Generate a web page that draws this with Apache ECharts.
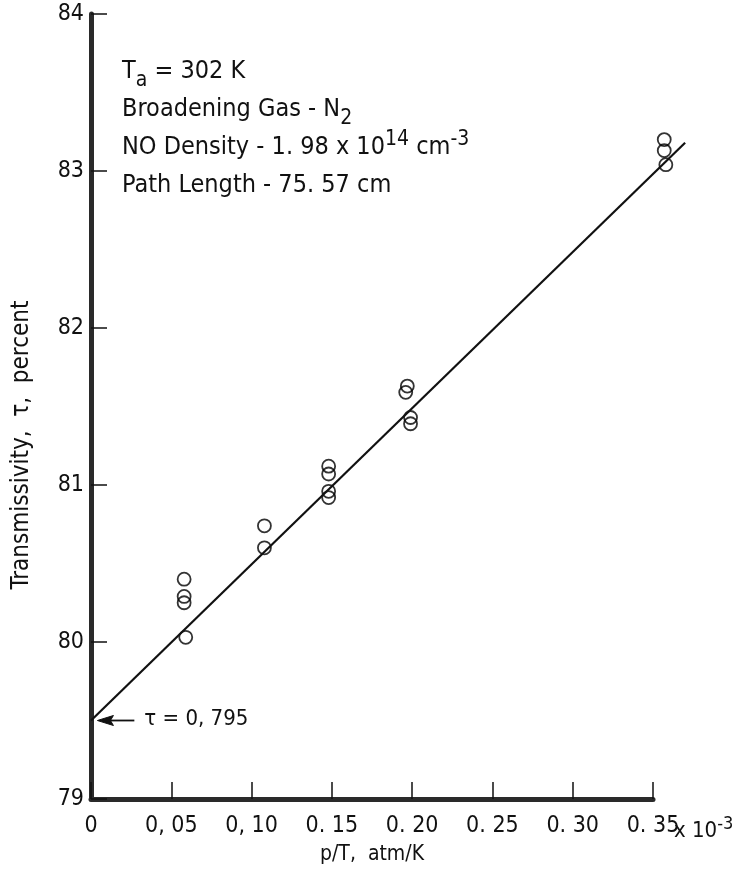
<!DOCTYPE html>
<html>
<head>
<meta charset="utf-8">
<script src="https://cdn.jsdelivr.net/npm/echarts@6/dist/echarts.min.js"></script>
<style>
html,body{margin:0;padding:0;background:#fff;}
#c{width:738px;height:873px;}
</style>
</head>
<body>
<div id="c"></div>
<script>
// Data
const pointsX = [0.058, 0.058, 0.058, 0.059, 0.108, 0.108, 0.148, 0.148, 0.148, 0.148, 0.197, 0.196, 0.199, 0.199, 0.357, 0.357, 0.358];
const pointsY = [80.40, 80.29, 80.25, 80.03, 80.74, 80.60, 81.12, 81.07, 80.96, 80.92, 81.63, 81.59, 81.43, 81.39, 83.20, 83.13, 83.04];
const fitX = [0, 0.37];
const fitY = [79.5, 83.18];
const xTickLabels = ['0', '0, 05', '0, 10', '0. 15', '0. 20', '0. 25', '0. 30', '0. 35'];
const yTickLabels = ['79', '80', '81', '82', '83', '84'];
const interceptX = [0.004, 0.027];
const interceptY = [79.5, 79.5];

const FONT = '"DejaVu Sans Condensed", "Liberation Sans Narrow", sans-serif';

const chart = echarts.init(document.getElementById('c'), null, {renderer: 'canvas'});

const scatterData = pointsX.map((x, i) => [x, pointsY[i]]);

const option = {
  backgroundColor: '#fff',
  animation: false,
  grid: {left: 91, right: 85, top: 14, bottom: 74, containLabel: false},
  xAxis: {
    type: 'value', min: 0, max: 0.35, interval: 0.05,
    name: 'p/T,  atm/K', nameLocation: 'middle', nameGap: 45,
    nameTextStyle: {fontFamily: FONT, fontSize: 21, color: '#111'},
    axisLine: {show: true, onZero: false, lineStyle: {color: '#2a2a2a', width: 5}},
    axisTick: {show: true, inside: true, length: 17, lineStyle: {color: '#111', width: 1.5}},
    axisLabel: {
      fontFamily: FONT, fontSize: 23, color: '#111', margin: 16,
      formatter: v => xTickLabels[Math.round(v / 0.05)]
    },
    splitLine: {show: false}
  },
  yAxis: {
    type: 'value', min: 79, max: 84, interval: 1,
    axisLine: {show: true, onZero: false, lineStyle: {color: '#2a2a2a', width: 5}},
    axisTick: {show: true, inside: true, length: 16, lineStyle: {color: '#111', width: 1.5}},
    axisLabel: {
      fontFamily: FONT, fontSize: 23, color: '#111', margin: 7,
      formatter: v => yTickLabels[Math.round(v - 79)]
    },
    splitLine: {show: false}
  },
  series: [
    {
      type: 'scatter', data: scatterData, clip: false,
      symbol: 'circle', symbolSize: 13,
      itemStyle: {color: 'rgba(255,255,255,0)', borderColor: '#000', borderWidth: 1.8},
      z: 3
    }
  ]
};

chart.setOption(option);

// Fit line and annotations placed via the chart's own scales
const toPx = p => chart.convertToPixel({gridIndex: 0}, p);
const fitPts = fitX.map((x, i) => toPx([x, fitY[i]]));
const pInt = toPx([interceptX[1], interceptY[1]]);
const pArrowTip = toPx([interceptX[0], interceptY[0]]);
const pEnd = toPx([0.35, 79]);

chart.setOption({
  graphic: [
    {
      type: 'polyline', z: 5,
      shape: {points: fitPts},
      style: {stroke: '#111', lineWidth: 2.2, fill: null}
    },
    {
      type: 'line', z: 10,
      shape: {x1: pArrowTip[0] + 10, y1: pArrowTip[1], x2: pInt[0], y2: pInt[1]},
      style: {stroke: '#111', lineWidth: 1.8}
    },
    {
      type: 'polygon', z: 10,
      shape: {points: [[pArrowTip[0], pArrowTip[1]], [pArrowTip[0] + 16, pArrowTip[1] - 5], [pArrowTip[0] + 13, pArrowTip[1]], [pArrowTip[0] + 16, pArrowTip[1] + 5]]},
      style: {fill: '#111', stroke: '#111', lineWidth: 1}
    },
    {
      type: 'text', z: 10, left: pInt[0] + 10, top: pInt[1] - 12,
      style: {text: '\u03c4 = 0, 795', font: '22px ' + FONT, fill: '#111'}
    },
    {
      type: 'text', z: 10, left: pEnd[0] + 21, top: pEnd[1] + 16,
      style: {
        text: 'x 10{sup|-3}',
        font: '22px ' + FONT, fill: '#111',
        rich: {sup: {fontFamily: FONT, fontSize: 18, verticalAlign: 'top', padding: [0, 0, 14, 0], fill: '#111'}}
      }
    },
    {
      type: 'text', z: 10, x: 22, y: 445, rotation: Math.PI / 2,
      style: {
        text: 'Transmissivity,  \u03c4,  percent',
        font: '24px ' + FONT, fill: '#111', align: 'center', verticalAlign: 'middle'
      }
    },
    {
      type: 'text', z: 10, left: 122, top: 52,
      style: {
        text: 'T{sub|a} = 302 K\nBroadening Gas - N{sub|2}\nNO Density - 1. 98 x 10{sup|14} cm{sup|-3}\nPath Length - 75. 57 cm',
        font: '25px ' + FONT, fill: '#111', lineHeight: 38,
        rich: {
          sub: {fontFamily: FONT, fontSize: 21, padding: [18, 0, 0, 0], lineHeight: 38, fill: '#111'},
          sup: {fontFamily: FONT, fontSize: 21, padding: [0, 0, 16, 0], lineHeight: 38, fill: '#111'}
        }
      }
    }
  ]
});
</script>
</body>
</html>
